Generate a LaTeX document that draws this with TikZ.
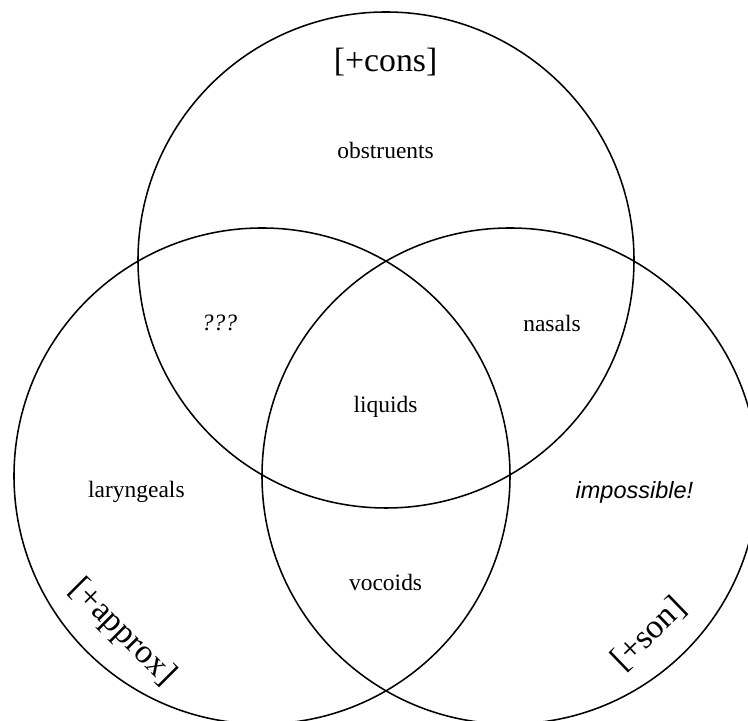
\documentclass[tikz,border=0pt]{standalone}
\usepackage{fontspec}
\setmainfont{Liberation Serif}
\newfontfamily\impfont{Liberation Sans}
\usepackage{tikz}

\begin{document}
\begin{tikzpicture}[every node/.style={font=\fontsize{16.7}{20}\selectfont}]
        % Define styles for the sets and their labels
        \tikzstyle{set} = [line width=1.1pt]
        \tikzstyle{feature} = [font=\fontsize{24}{28}\selectfont]
        \tikzstyle{region} = [font=\fontsize{16.7}{20}\selectfont]

        \useasboundingbox (0,0) rectangle (18.7,18.025);
        \clip (0,0) rectangle (18.7,18.025);

        % Circle centres
        \coordinate (cons) at (9.65,11.525);
        \coordinate (approx) at (6.55,6.125);
        \coordinate (son) at (12.75,6.125);

        % Circles
        \draw [set] (cons) circle (6.2);
        \draw [set] (approx) circle (6.2);
        \draw [set] (son) circle (6.2);

        % Feature labels
        \node (conslabel) [feature] at (9.64,16.475) {[+cons]};
        \node (approxlabel) [feature, rotate=-45] at (3.06,2.2) {[+approx]};
        \node (sonlabel) [feature, rotate=44] at (16.22,2.18) {[+son]};

        % Regions
        \node (obstruents) [region] at (9.64,14.275) {obstruents};
        \node (unknown) [region] at (5.49,9.94) {\itshape ???};
        \node (nasals) [region] at (13.8,9.94) {nasals};
        \node (liquids) [region] at (9.64,7.86) {liquids};
        \node (laryngeals) [region] at (3.41,5.725) {laryngeals};
        \node (impossible) [region] at (15.86,5.725) {\impfont\itshape impossible!};
        \node (vocoids) [region] at (9.64,3.475) {vocoids};
    \end{tikzpicture}
\end{document}
